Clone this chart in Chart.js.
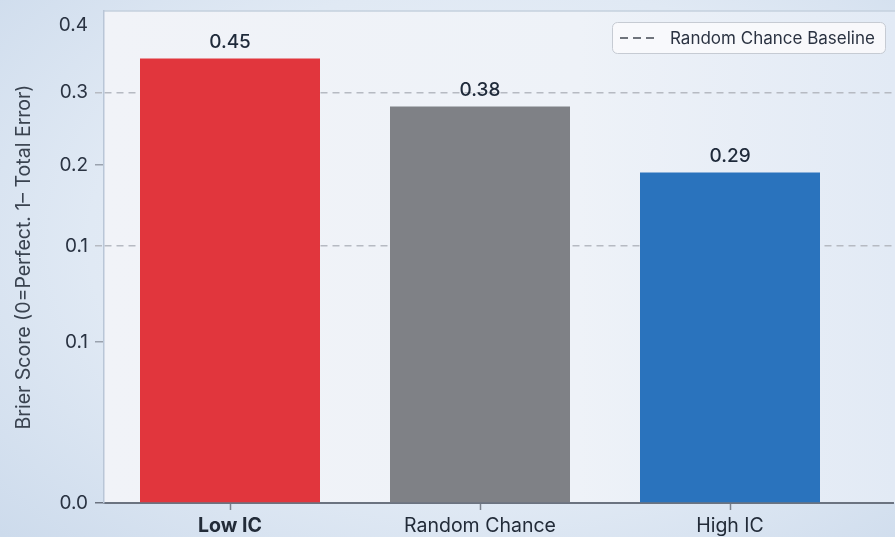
<!DOCTYPE html>
<html>
<head>
<meta charset="utf-8">
<script src="https://cdn.jsdelivr.net/npm/chart.js@4.4.1/dist/chart.umd.min.js"></script>
<style>
  html, body { margin: 0; padding: 0; }
  body {
    width: 895px; height: 537px; overflow: hidden;
    background: radial-gradient(ellipse 75% 80% at 55% 45%, #eef3f9 0%, #e0e9f4 60%, #cddbec 100%);
  }
  #wrap { position: relative; width: 895px; height: 537px; }
</style>
</head>
<body>
<div id="wrap"><canvas id="chart" width="895" height="537"></canvas></div>
<script>
// Brier scores per group
const categories = ['Low IC', 'Random Chance', 'High IC'];
const brierScores = [0.45, 0.38, 0.29];
const barColors = ['#e1363d', '#7f8186', '#2a73bd'];

// Y axis ticks and the printed tick labels
const yTickValues = [0, 0.1, 0.2, 0.3, 0.4, 0.5];
const yTickLabels = ['0.0', '0.1', '0.1', '0.2', '0.3', '0.4'];

// Dashed reference lines
const baselineValues = [0.2, 0.4];
const baselineLabel = 'Random Chance Baseline';

const yTitle = 'Brier Score (0=Perfect. 1\u2013 Total Error)';

const FONT = 'Inter, "Open Sans", sans-serif';
const DASH = [7, 5];

// Power-law value axis (compresses the upper range)
const EXPONENT = 0.675;
class PowerScale extends Chart.LinearScale {
  getPixelForValue(value) {
    const range = this.max - this.min;
    const d = range > 0 ? Math.max(0, (value - this.min) / range) : 0;
    return this.getPixelForDecimal(Math.pow(d, EXPONENT));
  }
  getValueForPixel(pixel) {
    const d = Math.max(0, this.getDecimalForPixel(pixel));
    return this.min + Math.pow(d, 1 / EXPONENT) * (this.max - this.min);
  }
}
PowerScale.id = 'power';
PowerScale.defaults = { ticks: { callback: Chart.Ticks.formatters.numeric } };
Chart.register(PowerScale);

const isBaseline = (tick) => !!tick && baselineValues.some(v => Math.abs(v - tick.value) < 1e-9);

// Plot panel background and top frame line
const panelPlugin = {
  id: 'panel',
  beforeDraw(chart) {
    const { ctx, chartArea: a, width } = chart;
    ctx.save();
    const g = ctx.createLinearGradient(a.left, 0, width, 0);
    g.addColorStop(0, '#f1f3f8');
    g.addColorStop(0.6, '#eef2f8');
    g.addColorStop(1, '#e2eaf5');
    ctx.fillStyle = g;
    ctx.fillRect(a.left, a.top, width - a.left, a.bottom - a.top);
    ctx.strokeStyle = '#c5d0de';
    ctx.lineWidth = 1.5;
    ctx.beginPath();
    ctx.moveTo(a.left, a.top);
    ctx.lineTo(width, a.top);
    ctx.stroke();
    ctx.restore();
  }
};

// Value labels above bars
const valueLabelPlugin = {
  id: 'valueLabels',
  afterDatasetsDraw(chart) {
    const { ctx } = chart;
    const meta = chart.getDatasetMeta(0);
    ctx.save();
    ctx.font = '500 19px ' + FONT;
    ctx.fillStyle = '#1f2a3a';
    ctx.textAlign = 'center';
    ctx.textBaseline = 'middle';
    meta.data.forEach((bar, i) => {
      ctx.fillText(brierScores[i].toFixed(2), bar.x, bar.y - 16);
    });
    ctx.restore();
  }
};

// Legend box for the dashed baseline
const baselineLegendPlugin = {
  id: 'baselineLegend',
  afterDraw(chart) {
    const { ctx, chartArea: a, width } = chart;
    const boxW = 273, boxH = 31;
    const x = width - 10 - boxW, y = a.top + 11;
    ctx.save();
    ctx.beginPath();
    ctx.roundRect(x + 0.5, y + 0.5, boxW, boxH, 5);
    ctx.fillStyle = 'rgba(249,250,252,0.9)';
    ctx.fill();
    ctx.strokeStyle = '#c6cbd3';
    ctx.lineWidth = 1;
    ctx.stroke();
    ctx.beginPath();
    ctx.setLineDash([8, 5]);
    ctx.lineWidth = 2;
    ctx.strokeStyle = '#6f747c';
    ctx.moveTo(x + 8, y + boxH / 2 + 0.5);
    ctx.lineTo(x + 46, y + boxH / 2 + 0.5);
    ctx.stroke();
    ctx.setLineDash([]);
    ctx.font = '17px ' + FONT;
    ctx.fillStyle = '#2b3342';
    ctx.textAlign = 'left';
    ctx.textBaseline = 'middle';
    ctx.fillText(baselineLabel, x + 58, y + boxH / 2 + 1);
    ctx.restore();
  }
};

new Chart(document.getElementById('chart'), {
  type: 'bar',
  data: {
    datasets: [{
      label: 'Brier Score',
      data: brierScores.map((v, i) => ({ x: i, y: v })),
      backgroundColor: barColors,
      borderWidth: 0,
      categoryPercentage: 0.8,
      barPercentage: 0.9
    }]
  },
  options: {
    responsive: false,
    animation: false,
    layout: { padding: { top: 11, right: 2, left: 0, bottom: 0 } },
    plugins: {
      legend: { display: false },
      tooltip: { enabled: false }
    },
    scales: {
      x: {
        type: 'linear',
        min: -0.504,
        max: 2.652,
        offset: false,
        afterBuildTicks: (s) => { s.ticks = categories.map((_, i) => ({ value: i })); },
        afterFit: (s) => { s.height = 34; s.paddingLeft = 0; s.paddingRight = 0; },
        ticks: {
          callback: (v, i) => categories[i],
          color: '#222b38',
          padding: 4,
          maxRotation: 0,
          font: (c) => ({ family: FONT, size: 19.5, weight: c.index === 0 ? '700' : '400' })
        },
        grid: {
          offset: false,
          drawOnChartArea: false,
          tickLength: 7,
          tickColor: '#7b828d',
          tickWidth: 1.5
        },
        border: { display: true, color: '#6b7380', width: 2 }
      },
      y: {
        type: 'power',
        min: 0,
        max: 0.523,
        afterBuildTicks: (s) => { s.ticks = yTickValues.map(v => ({ value: v })); },
        afterFit: (s) => { s.width = 104; s.paddingTop = 0; s.paddingBottom = 0; },
        ticks: {
          callback: (v, i) => yTickLabels[i],
          color: '#2a3342',
          padding: 7,
          font: { family: FONT, size: 19 }
        },
        grid: {
          color: (c) => isBaseline(c.tick) ? '#b6bac2' : 'rgba(0,0,0,0)',
          lineWidth: 1.5,
          tickLength: 9,
          tickWidth: 1.5,
          tickColor: (c) => {
            if (!c.tick) return 'rgba(0,0,0,0)';
            if (c.tick.value === 0) return '#6b7380';
            if (c.tick.value >= 0.5) return 'rgba(0,0,0,0)';
            return isBaseline(c.tick) ? '#b6bac2' : '#9aa2ae';
          },
          tickBorderDash: (c) => isBaseline(c.tick) ? DASH : []
        },
        border: {
          display: true,
          color: '#b9c6d7',
          width: 1.5,
          dash: (c) => isBaseline(c.tick) ? DASH : []
        },
        title: {
          display: true,
          text: yTitle,
          color: '#3a4350',
          font: { family: FONT, size: 19.5 },
          padding: { top: 12, bottom: 0 }
        }
      }
    }
  },
  plugins: [panelPlugin, valueLabelPlugin, baselineLegendPlugin]
});
</script>
</body>
</html>
